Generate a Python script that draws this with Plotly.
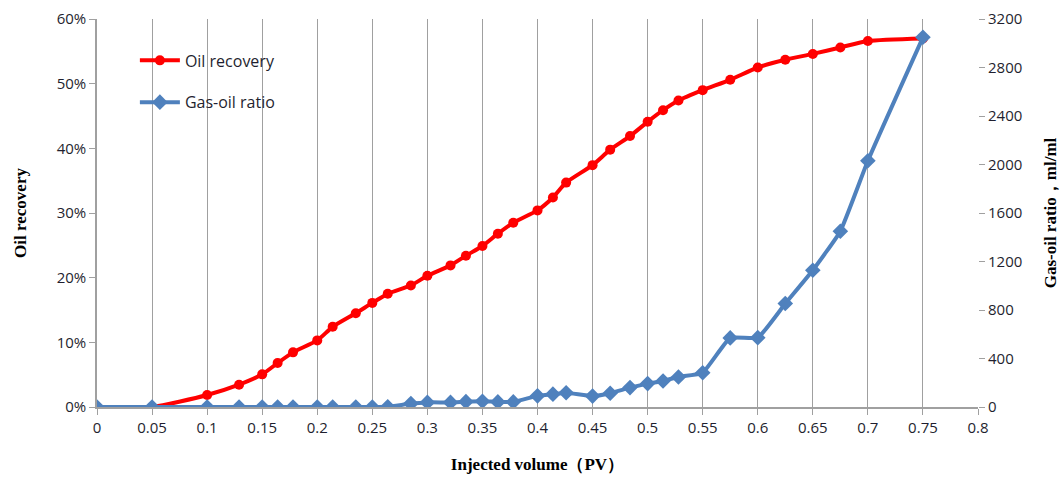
import plotly.graph_objects as go

pv = [0, 0.05, 0.1, 0.129, 0.15, 0.164, 0.178, 0.2, 0.214, 0.235, 0.25, 0.264,
      0.285, 0.3, 0.321, 0.335, 0.35, 0.364, 0.378, 0.4, 0.414, 0.426, 0.45, 0.466,
      0.484, 0.5, 0.514, 0.528, 0.55, 0.575, 0.6, 0.625, 0.65, 0.675, 0.7, 0.75]

oil_recovery = [0.0, 0.0, 1.85, 3.45, 5.05, 6.8, 8.45, 10.3, 12.4, 14.5, 16.1, 17.5,
                18.8, 20.3, 21.9, 23.4, 24.9, 26.8, 28.5, 30.4, 32.4, 34.7, 37.4, 39.8,
                41.9, 44.1, 45.9, 47.4, 49.0, 50.6, 52.5, 53.7, 54.6, 55.6, 56.6, 57.0]

gas_oil_ratio = [0, 0, 0, 0, 0, 0, 0, 0, 0, 0, 0, 2,
                 28, 38, 38, 44, 48, 42, 42, 92, 106, 118, 90, 114,
                 160, 193, 215, 248, 283, 570, 572, 853, 1128, 1450, 2031, 3049]

x_ticks = [0, 0.05, 0.1, 0.15, 0.2, 0.25, 0.3, 0.35, 0.4, 0.45, 0.5, 0.55, 0.6, 0.65, 0.7, 0.75, 0.8]

RED = "#ff0000"
BLUE = "#4f81bd"
GRID = "#a0a0a0"
TICKFONT = dict(family="Open Sans, Noto Sans, sans-serif", size=15, color="#1f1f2f")
TITLEFONT = dict(family="Liberation Serif, serif", size=17, color="#000000")

fig = go.Figure()
fig.add_trace(go.Scatter(
    x=pv, y=[v / 100 for v in oil_recovery], name="Oil recovery",
    mode="lines+markers", line=dict(color=RED, width=4, shape="spline", smoothing=0.6),
    marker=dict(symbol="circle", size=10, color=RED),
    legendgroup="a", yaxis="y"))
fig.add_trace(go.Scatter(
    x=pv, y=gas_oil_ratio, name="Gas-oil ratio",
    mode="lines+markers", line=dict(color=BLUE, width=4, shape="spline", smoothing=0.4),
    marker=dict(symbol="diamond", size=12, color=BLUE),
    legendgroup="b", yaxis="y2"))

fig.update_layout(
    width=1062, height=480,
    margin=dict(l=97, r=84, t=19, b=73),
    plot_bgcolor="white", paper_bgcolor="white",
    showlegend=True,
    legend=dict(x=0.043, y=0.937, xanchor="left", yanchor="top",
                bgcolor="rgba(255,255,255,0)",
                font=dict(family="Open Sans, Noto Sans, sans-serif", size=16, color="#1f1f2f"),
                traceorder="grouped", tracegroupgap=18, itemwidth=40),
    xaxis=dict(range=[0, 0.8], tickvals=x_ticks, ticktext=[f"{v:g}" for v in x_ticks],
               showgrid=True, gridcolor=GRID, gridwidth=1,
               showline=True, linecolor=GRID, linewidth=1.5,
               ticks="outside", ticklen=6, tickcolor=GRID,
               tickfont=TICKFONT, zeroline=False, automargin=False,
               title=dict(text="<b>Injected volume（PV）</b>", font=TITLEFONT, standoff=22)),
    yaxis=dict(range=[0, 0.6], dtick=0.1, tickformat=".0%",
               showgrid=False, showline=True, linecolor=GRID, linewidth=1.5,
               ticks="outside", ticklen=6, tickcolor=GRID, zeroline=False,
               tickfont=TICKFONT, automargin=False,
               title=dict(text="<b>Oil recovery</b>", font=TITLEFONT, standoff=26)),
    yaxis2=dict(range=[0, 3200], dtick=400, overlaying="y", side="right",
                showgrid=False, showline=False, zeroline=False,
                ticks="outside", ticklen=6, tickcolor=GRID,
                tickfont=TICKFONT, automargin=False,
                title=dict(text="<b>Gas-oil ratio，ml/ml</b>", font=TITLEFONT, standoff=22)),
)

fig.write_html("out.html")
